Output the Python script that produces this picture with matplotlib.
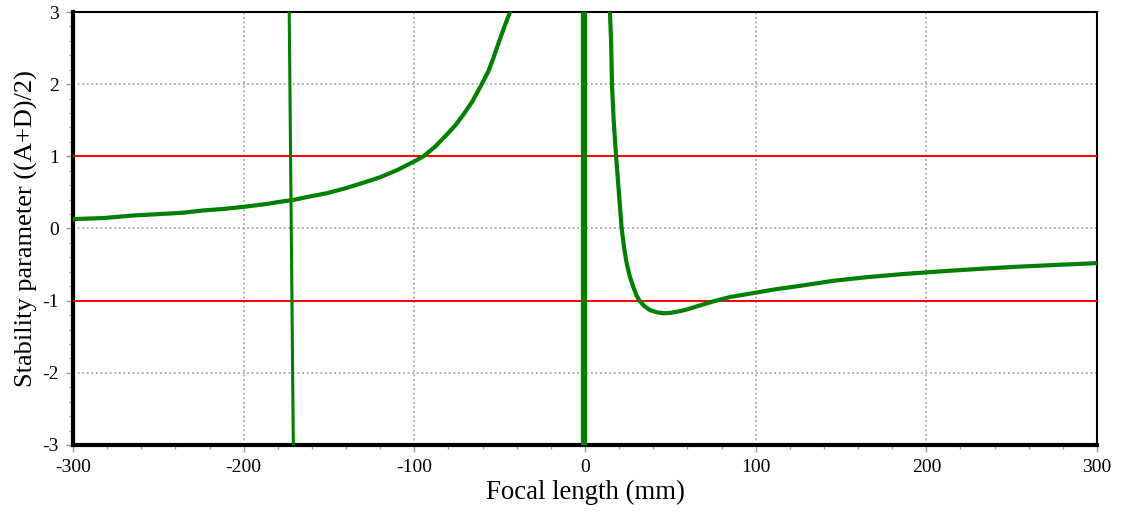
import numpy as np
import matplotlib
matplotlib.use('Agg')
import matplotlib.pyplot as plt
from matplotlib.ticker import MultipleLocator

# left branch (f < 0)
left_f = [-300, -282, -264.6, -249, -235, -223.6, -212, -200, -186.5, -178.7,
          -171, -162, -151, -140, -131.8, -120, -110, -100, -94.7, -88,
          -81, -76, -71.5, -66, -60.5, -56.6, -53.7, -50.2, -47, -43.9]
left_s = [0.13, 0.145, 0.18, 0.20, 0.22, 0.25, 0.27, 0.30, 0.34, 0.37,
          0.395, 0.44, 0.49, 0.56, 0.62, 0.71, 0.81, 0.93, 1.0, 1.13,
          1.30, 1.43, 1.57, 1.76, 2.0, 2.18, 2.36, 2.6, 2.81, 3.0]

# right branch (f > 0)
right_f = [14.6, 15.3, 15.8, 16.8, 18.2, 19.3, 20.5, 21.5, 22.8, 24.4,
           26.2, 28.3, 30.2, 32.2, 35, 38, 42, 45.9, 50, 55.7,
           60, 65.4, 75.2, 85, 98.6, 112.3, 126, 145.5, 165, 184.5,
           199, 214, 233, 253, 276, 300]
right_s = [3.0, 2.6, 2.0, 1.5, 1.0, 0.67, 0.30, 0.0, -0.25, -0.48,
           -0.66, -0.81, -0.93, -1.01, -1.08, -1.13, -1.16, -1.175, -1.17, -1.145,
           -1.12, -1.08, -1.01, -0.95, -0.895, -0.84, -0.795, -0.725, -0.675, -0.635,
           -0.61, -0.585, -0.557, -0.53, -0.505, -0.48]

# near-vertical jumps
jump1_f = [-173.3, -170.9]
jump1_s = [3.0, -3.0]
jump2_f = [-0.5, -0.5]
jump2_s = [3.0, -3.0]

limits = [1, -1]

plt.rcParams['font.family'] = ['Liberation Serif', 'DejaVu Serif']
plt.rcParams['axes.unicode_minus'] = False

fig = plt.figure(figsize=(11.21, 5.13), dpi=100)
ax = fig.add_axes([0.0651, 0.1326, 0.9135, 0.844])

for y in limits:
    ax.axhline(y, color='#ff0000', lw=1.4, zorder=3)

green = '#008000'
ax.plot(left_f, left_s, color=green, lw=3, zorder=4)
ax.plot(right_f, right_s, color=green, lw=3, zorder=4)
ax.plot(jump1_f, jump1_s, color=green, lw=2.2, zorder=4)
ax.plot(jump2_f, jump2_s, color=green, lw=4.5, zorder=4)

ax.set_xlim(-300, 300)
ax.set_ylim(-3, 3)
ax.xaxis.set_major_locator(MultipleLocator(100))
ax.xaxis.set_minor_locator(MultipleLocator(20))
ax.yaxis.set_major_locator(MultipleLocator(1))
ax.yaxis.set_minor_locator(MultipleLocator(0.2))

ax.grid(True, which='major', color='#999999', linestyle=(0, (1.2, 1.8)), lw=1.1, zorder=1)
ax.tick_params(which='major', direction='out', length=5, width=1, color='#999999',
               labelsize=14, labelcolor='black', pad=5)
ax.tick_params(which='minor', direction='out', length=3, width=1, color='#999999')

for side in ['left', 'bottom']:
    ax.spines[side].set_linewidth(3)
for side in ['top', 'right']:
    ax.spines[side].set_linewidth(1.5)

ax.set_xlabel('Focal length (mm)', fontsize=19.3, labelpad=3)
ax.set_ylabel('Stability parameter ((A+D)/2)', fontsize=19, labelpad=3)

fig.savefig('out.png', dpi=100)
